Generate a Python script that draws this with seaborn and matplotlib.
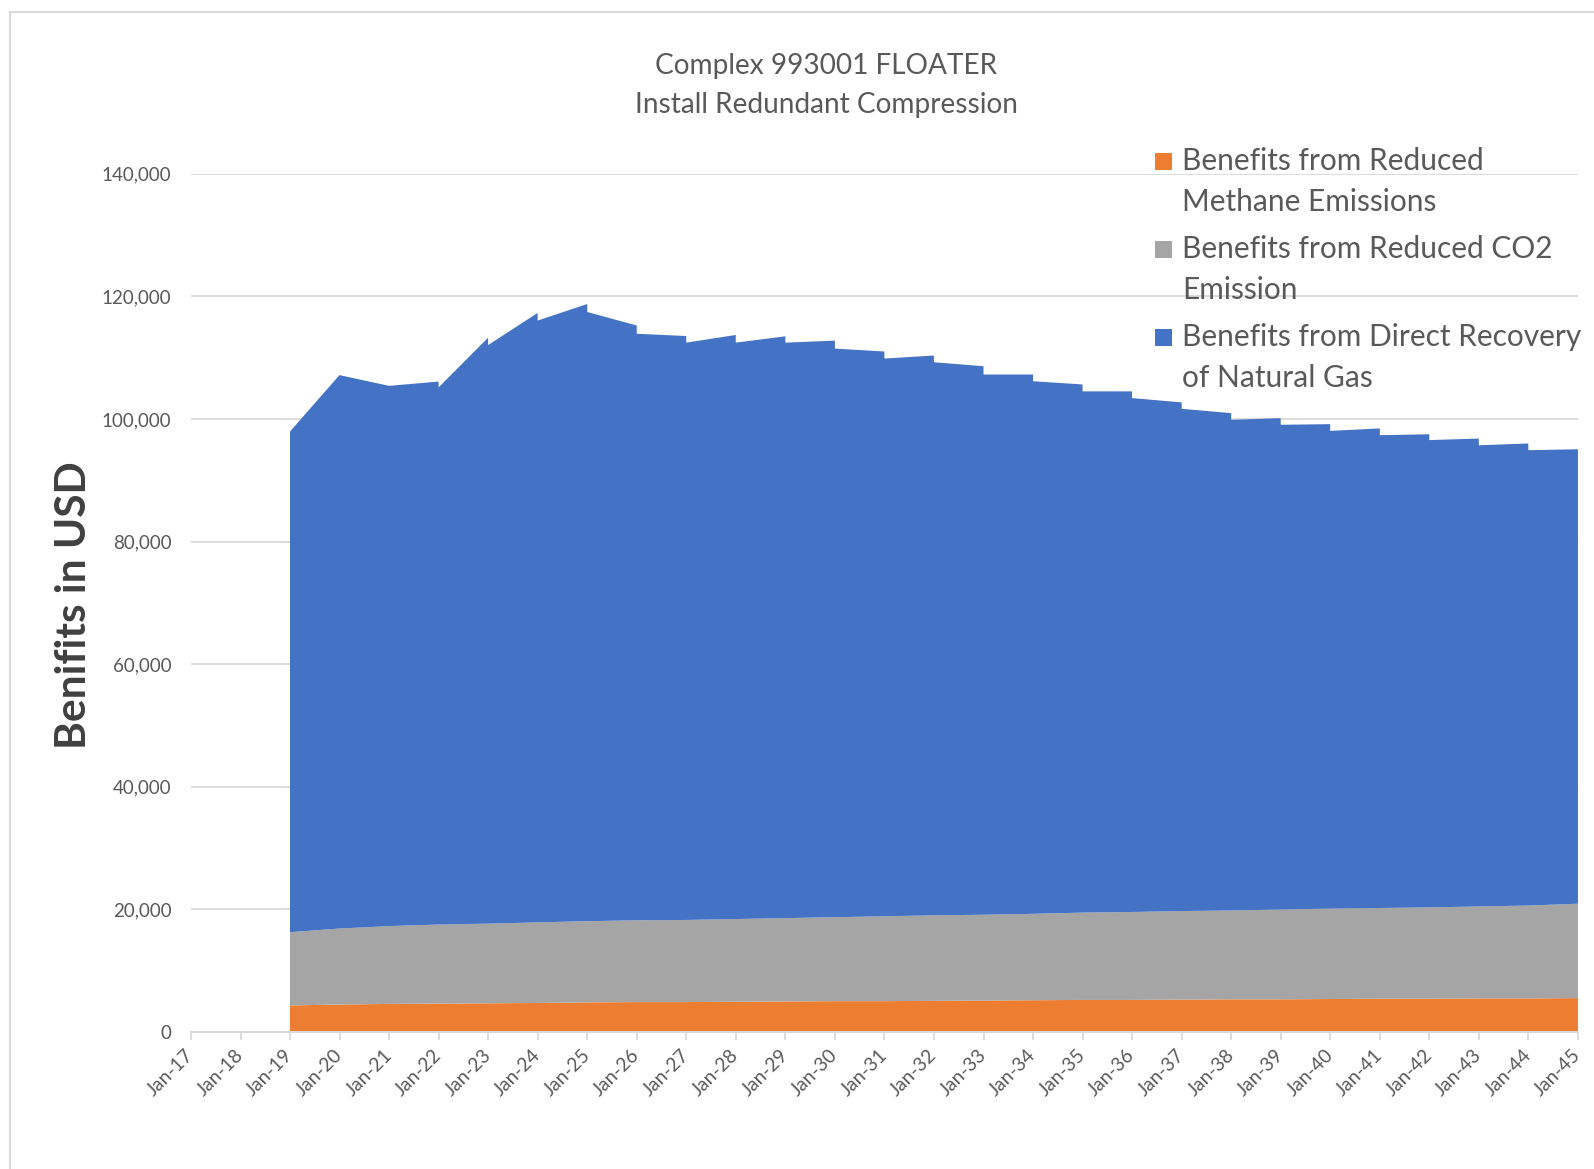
import numpy as np
import pandas as pd
import matplotlib
matplotlib.use("Agg")
import matplotlib.pyplot as plt
import matplotlib.dates as mdates
from matplotlib.patches import Rectangle
from matplotlib.ticker import FuncFormatter
import seaborn as sns

# ---------------- data ----------------
years = list(range(2019, 2045))
methane_start = [4300, 4450, 4550, 4600, 4650, 4700, 4800, 4850, 4850, 4900, 4950, 5000, 5000,
                 5050, 5100, 5150, 5200, 5200, 5250, 5300, 5300, 5350, 5400, 5400, 5450, 5450]
methane_end = [4450, 4550, 4600, 4650, 4700, 4800, 4850, 4850, 4900, 4950, 5000, 5000, 5050,
               5100, 5150, 5200, 5200, 5250, 5300, 5300, 5350, 5400, 5400, 5450, 5450, 5500]
co2_start = [11950, 12400, 12700, 12900, 13000, 13150, 13250, 13350, 13400, 13500, 13600, 13700, 13850,
             13950, 14000, 14100, 14250, 14350, 14450, 14500, 14650, 14750, 14800, 14900, 15000, 15150]
co2_end = [12400, 12700, 12900, 13000, 13150, 13250, 13350, 13400, 13500, 13600, 13700, 13850, 13950,
           14000, 14100, 14250, 14350, 14450, 14500, 14650, 14750, 14800, 14900, 15000, 15150, 15400]
gas_start = [81700, 90300, 88150, 87650, 94400, 98200, 99400, 95700, 94200, 94050, 93900, 92780, 91000,
             90250, 88150, 86900, 85050, 83850, 81950, 80050, 79100, 77950, 77150, 76250, 75250, 74300]
gas_end = [90300, 88150, 88600, 95600, 99450, 100700, 97050, 95280, 95300, 94930, 94080, 92150, 91350,
           89500, 88000, 86180, 84950, 83000, 81150, 80180, 79050, 78250, 77200, 76350, 75400, 74150]

series_labels = ["Benefits from Reduced\nMethane Emissions",
                 "Benefits from Reduced CO2\nEmission",
                 "Benefits from Direct Recovery\nof Natural Gas"]
series_colors = ["#ED7D31", "#A5A5A5", "#4472C4"]

tick_years = list(range(2017, 2046))
tick_labels = ["Jan-%02d" % (y % 100) for y in tick_years]
y_ticks = [0, 20000, 40000, 60000, 80000, 100000, 120000, 140000]

title_text = "Complex 993001 FLOATER\nInstall Redundant Compression"
ylabel_text = "Benifits in USD"

# ---------------- table ----------------
rows = []
for i, y in enumerate(years):
    rows.append({"date": pd.Timestamp(y, 1, 1), "methane": methane_start[i],
                 "co2": co2_start[i], "gas": gas_start[i]})
    rows.append({"date": pd.Timestamp(y, 12, 31, 12), "methane": methane_end[i],
                 "co2": co2_end[i], "gas": gas_end[i]})
df = pd.DataFrame(rows)
xnum = mdates.date2num(df["date"].dt.to_pydatetime())

# ---------------- style ----------------
sns.set_theme(style="white")
plt.rcParams['font.family'] = ['Lato', 'DejaVu Sans']
TXT = "#595959"
GRID = "#d9d9d9"

W, H = 1594, 1169
fig = plt.figure(figsize=(W / 100, H / 100), dpi=100)
fig.patch.set_facecolor("white")

ax_l, ax_r, ax_b, ax_t = 191, 1578, 1031.8, 173.8
ax = fig.add_axes([ax_l / W, 1 - ax_b / H, (ax_r - ax_l) / W, (ax_b - ax_t) / H])

ax.stackplot(xnum, df["methane"], df["co2"], df["gas"], colors=series_colors,
             linewidth=0, edgecolor="none")

ax.set_xlim(mdates.date2num(pd.Timestamp(2017, 1, 1)), mdates.date2num(pd.Timestamp(2045, 1, 1)))
ax.set_ylim(0, 140000)
ax.set_yticks(y_ticks)
ax.yaxis.set_major_formatter(FuncFormatter(lambda v, p: "{:,}".format(int(v))))
ax.grid(axis='y', color=GRID, lw=1.3)
ax.grid(axis='x', visible=False)
ax.set_axisbelow(True)
for s in ['top', 'right', 'left']:
    ax.spines[s].set_visible(False)
ax.spines['bottom'].set_color(GRID)
ax.spines['bottom'].set_linewidth(1.5)

ax.set_xticks([mdates.date2num(pd.Timestamp(y, 1, 1)) for y in tick_years])
ax.set_xticklabels(tick_labels)
plt.setp(ax.get_xticklabels(), rotation=45, ha='right', va='center', rotation_mode='anchor')
ax.tick_params(axis='x', bottom=True, length=6, color=GRID, width=1.3, pad=9,
               labelsize=13.8, labelcolor=TXT, direction='out')
ax.tick_params(axis='y', left=False, length=0, pad=14, labelsize=13.5, labelcolor=TXT)

ax.set_ylabel(ylabel_text, fontsize=30.5, fontweight='bold', color='#404040')
ax.yaxis.set_label_coords((93 - ax_l) / (ax_r - ax_l), 0.497)

fig.suptitle(title_text, x=826 / W, y=1 - 85.5 / H, va='center', ha='center',
             fontsize=20.2, color=TXT, linespacing=1.62)

# legend drawn as patches + text (transparent, like the reference)
leg_mid = [181.5, 269.8, 357.3]
for lbl, col, ym in zip(series_labels, series_colors, leg_mid):
    y_first = ym - 19.85
    fig.patches.append(Rectangle((1155 / W, 1 - (y_first + 8.5) / H), 17 / W, 17 / H,
                                 transform=fig.transFigure, facecolor=col, edgecolor='none'))
    fig.text(1182 / W, 1 - ym / H, lbl, ha='left', va='center', fontsize=21.5,
             color=TXT, linespacing=1.55)

# outer chart border
fig.patches.append(Rectangle((10 / W, -0.1), 1.2, 1.1 - 12 / H, transform=fig.transFigure,
                             fill=False, edgecolor=GRID, lw=1.5))

fig.savefig("out.png", dpi=100, facecolor="white")
